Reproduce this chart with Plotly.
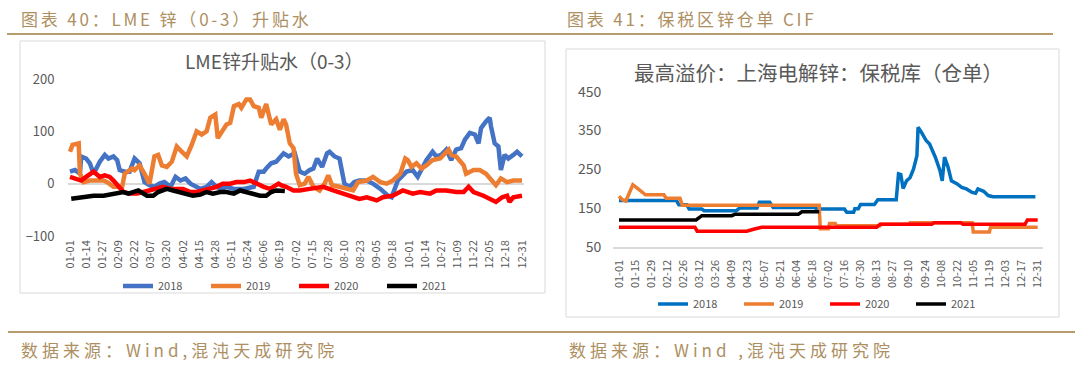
import plotly.graph_objects as go

W, H = 1080, 365
OX, OY = 0, 0

# ---------------- tick labels ----------------
left_ticks = ["01-01", "01-14", "01-27", "02-09", "02-22", "03-07", "03-20", "04-02", "04-15",
              "04-28", "05-11", "05-24", "06-06", "06-19", "07-02", "07-15", "07-28", "08-10",
              "08-23", "09-05", "09-18", "10-01", "10-14", "10-27", "11-09", "11-22", "12-05",
              "12-18", "12-31"]
right_ticks = ["01-01", "01-15", "01-29", "02-12", "02-26", "03-12", "03-26", "04-09", "04-23",
               "05-07", "05-21", "06-04", "06-18", "07-02", "07-16", "07-30", "08-13", "08-27",
               "09-10", "09-24", "10-08", "10-22", "11-05", "11-19", "12-03", "12-17", "12-31"]
left_tick_days = [0, 13, 26, 39, 52, 65, 78, 91, 104, 117, 130, 143, 156, 169, 182, 195, 208, 221,
                  234, 247, 260, 273, 286, 299, 312, 325, 338, 351, 364]
right_tick_days = [0, 14, 28, 42, 56, 70, 84, 98, 112, 126, 140, 154, 168, 182, 196, 210, 224, 238,
                   252, 266, 280, 294, 308, 322, 336, 350, 364]

# ---------------- left chart: LME zinc (0-3) spread; x = day of year (0 = 01-01) ----------------
L2018_day = [0, 4, 8, 9, 13, 16, 19, 21, 24, 28, 31, 35, 38, 40, 44, 48, 52, 56, 60, 64,
             68, 72, 76, 81, 85, 89, 93, 97, 101, 105, 110, 114, 118, 122, 126, 132, 140, 148, 152, 156,
             158, 162, 166, 172, 176, 181, 185, 189, 193, 196, 199, 203, 207, 209, 213, 217, 221, 225, 229, 233,
             239, 244, 250, 256, 259, 262, 264, 271, 276, 280, 287, 292, 295, 299, 303, 307, 311, 315, 318, 322,
             326, 329, 331, 335, 338, 339, 342, 345, 347, 350, 353, 357, 360, 364]
L2018_val = [23, 26, 19, 52, 48, 39, 19, 29, 42, 55, 48, 52, 45, 26, 23, 23, 48, 39, 3, -3,
             -6, 0, 3, -6, 13, 6, 10, 0, -6, -10, -6, 3, -6, -10, -6, -10, -10, -6, 23, 23,
             29, 39, 42, 58, 52, 58, 23, 19, 26, 29, 48, 32, 58, 61, 52, 48, 0, -6, 3, 6,
             6, 0, -10, -23, -26, -6, 6, 23, 26, 13, 45, 61, 52, 55, 65, 45, 65, 68, 84, 97,
             94, 77, 106, 119, 126, 110, 77, 71, 26, 55, 48, 55, 61, 52]

L2019_day = [0, 2, 7, 8, 11, 16, 27, 30, 35, 42, 44, 50, 52, 56, 60, 64, 68, 71, 74, 78,
             82, 86, 90, 94, 98, 102, 106, 110, 113, 117, 119, 123, 126, 129, 132, 136, 138, 142, 145, 148,
             152, 154, 158, 162, 166, 169, 172, 174, 177, 180, 182, 185, 189, 192, 196, 201, 205, 208, 211, 217,
             223, 228, 232, 239, 244, 250, 255, 260, 266, 270, 272, 275, 279, 283, 287, 292, 298, 302, 305, 307,
             311, 317, 319, 325, 330, 335, 341, 343, 347, 352, 357, 364]
L2019_val = [61, 74, 77, 19, 3, 6, 6, 3, -6, -6, 19, 29, 26, 35, 19, 0, 52, 55, 35, 32,
             42, 71, 61, 52, 74, 100, 94, 100, 126, 132, 87, 100, 113, 116, 148, 152, 145, 161, 161, 148,
             145, 126, 152, 113, 123, 103, 123, 113, 77, 68, 19, -3, 0, 13, -6, -13, 0, 16, -3, -6,
             -10, -13, 3, 6, 13, 3, 0, 6, 19, 48, 45, 32, 39, 29, 35, 45, 48, 58, 65, 55,
             52, 35, 19, 26, 26, 19, 0, -3, 10, 3, 6, 6]

L2020_day = [0, 5, 9, 13, 19, 21, 24, 28, 32, 35, 39, 43, 48, 54, 59, 64, 70, 75, 81, 86,
             91, 97, 102, 107, 113, 118, 123, 129, 134, 140, 145, 150, 156, 161, 168, 170, 174, 180, 185, 193,
             204, 212, 220, 228, 233, 239, 247, 252, 260, 268, 276, 282, 290, 295, 303, 311, 317, 321, 325, 333,
             338, 343, 348, 352, 354, 357, 364]
L2020_val = [13, 10, 6, 13, 23, 19, 13, 16, 13, 6, -6, -16, -19, -19, -16, -13, -10, -6, -10, -10,
             -10, -16, -16, -13, -10, -6, 0, 0, 3, 3, 6, 0, -6, -10, 0, -3, -6, -13, -13, -10,
             -6, -13, -19, -23, -29, -26, -32, -26, -23, -13, -19, -16, -19, -13, -13, -16, -16, -6, -16, -23,
             -29, -35, -26, -23, -35, -26, -23]

L2021_day = [1, 11, 19, 27, 35, 43, 47, 51, 55, 62, 67, 71, 78, 83, 89, 94, 99, 105, 110, 115,
             121, 126, 132, 137, 142, 148, 153, 158, 162, 166, 173]
L2021_val = [-29, -25, -23, -23, -19, -16, -19, -16, -13, -23, -23, -16, -10, -13, -16, -19, -23, -21, -16, -19,
             -16, -16, -19, -13, -16, -19, -23, -23, -16, -13, -14]

# ---------------- right chart: bonded zinc warrant premium; x = day of year ----------------
R2018_day = [0, 50, 52, 59, 61, 72, 74, 102, 105, 120, 122, 131, 134, 170, 172, 196, 198, 204, 205, 208,
             210, 222, 225, 241, 243, 245, 247, 250, 253, 256, 259, 260, 263, 267, 270, 275, 279, 281, 283, 286,
             289, 294, 298, 302, 307, 310, 312, 317, 321, 325, 362]
R2018_val = [169, 169, 158, 158, 147, 147, 143, 143, 150, 150, 165, 165, 151, 151, 147, 147, 139, 139, 148, 148,
             159, 159, 171, 171, 238, 236, 200, 220, 228, 250, 285, 358, 345, 324, 315, 281, 247, 220, 281, 256,
             220, 212, 203, 199, 190, 188, 199, 193, 182, 179, 179]

R2019_day = [0, 3, 6, 10, 12, 15, 18, 20, 23, 39, 41, 53, 55, 174, 175, 182, 183, 188, 189, 227,
             228, 252, 253, 307, 308, 322, 323, 364]
R2019_val = [180, 171, 168, 195, 210, 203, 195, 192, 184, 184, 175, 175, 157, 157, 96, 96, 110, 110, 104, 104,
             108, 108, 112, 112, 88, 88, 100, 100]

R2020_day = [0, 66, 68, 111, 117, 124, 224, 227, 272, 274, 297, 299, 353, 355, 364]
R2020_val = [100, 100, 90, 90, 95, 100, 100, 108, 108, 112, 112, 108, 108, 119, 119]

R2021_day = [0, 67, 72, 98, 101, 156, 159, 174]
R2021_val = [119, 119, 130, 130, 134, 134, 140, 140]

series_names = ["2018", "2019", "2020", "2021"]
left_colors = ["#4472C4", "#ED7D31", "#FF0000", "#000000"]
right_colors = ["#0070C0", "#ED7D31", "#FF0000", "#000000"]
left_data = [(L2018_day, L2018_val), (L2019_day, L2019_val), (L2020_day, L2020_val), (L2021_day, L2021_val)]
right_data = [(R2018_day, R2018_val), (R2019_day, R2019_val), (R2020_day, R2020_val), (R2021_day, R2021_val)]

GRAY = "#595959"
GOLD = "#AD8F62"
LINEGOLD = "#B89C6E"
CJK = "Noto Sans CJK SC"


def px(x):
    return (x - OX) / W


def py(y):
    return 1 - (y - OY) / H


def spaced(txt, sp):
    return '<span style="letter-spacing:%spx">%s</span>' % (sp, txt)


fig = go.Figure()
for name, col, (d, v) in zip(series_names, left_colors, left_data):
    fig.add_trace(go.Scatter(x=d, y=v, mode="lines", name=name, xaxis="x", yaxis="y", legend="legend",
                             line=dict(color=col, width=4.5)))
for name, col, (d, v) in zip(series_names, right_colors, right_data):
    fig.add_trace(go.Scatter(x=d, y=v, mode="lines", name=name, xaxis="x2", yaxis="y2", legend="legend2",
                             line=dict(color=col, width=3.5)))

lppd = 452 / 364.0
rppd = 418.7 / 364.0

fig.update_layout(
    width=W, height=H,
    margin=dict(l=0, r=0, t=0, b=0, pad=0, autoexpand=False),
    paper_bgcolor="white", plot_bgcolor="rgba(0,0,0,0)",
    font=dict(family=CJK, color=GRAY),
    xaxis=dict(domain=[px(70 - 2 * lppd), px(522 + 2 * lppd)], range=[-2, 366], anchor="y",
               tickmode="array", tickvals=left_tick_days, ticktext=left_ticks, tickangle=-90,
               tickfont=dict(size=11, color=GRAY), showgrid=False, zeroline=False, showline=False,
               ticks="", ticklabelstandoff=1, automargin=False),
    yaxis=dict(domain=[py(236), py(79)], range=[-100, 200], anchor="x",
               tickmode="array", tickvals=[-100, 0, 100, 200],
               tickfont=dict(size=13, color=GRAY), showgrid=False, zeroline=True,
               zerolinecolor="#D9D9D9", zerolinewidth=2, showline=False, ticks="", ticklabelstandoff=12,
               automargin=False),
    xaxis2=dict(domain=[px(619 - 5 * rppd), px(1037.7 + 5 * rppd)], range=[-5, 369], anchor="y2",
                tickmode="array", tickvals=right_tick_days, ticktext=right_ticks, tickangle=-90,
                tickfont=dict(size=11, color=GRAY), showgrid=False, zeroline=False, showline=True,
                linecolor="#D9D9D9", linewidth=1.5, ticks="", ticklabelstandoff=7, automargin=False),
    yaxis2=dict(domain=[py(246.7), py(91.7)], range=[50, 450], anchor="x2",
                tickmode="array", tickvals=[50, 150, 250, 350, 450],
                tickfont=dict(size=14, color=GRAY), showgrid=False, zeroline=False, showline=False,
                ticks="", ticklabelstandoff=11, automargin=False),
    legend=dict(orientation="h", x=px(118), y=py(286), xanchor="left", yanchor="middle",
                font=dict(size=11, color=GRAY), bgcolor="rgba(0,0,0,0)", entrywidth=43,
                entrywidthmode="pixels"),
    legend2=dict(orientation="h", x=px(653), y=py(304), xanchor="left", yanchor="middle",
                 font=dict(size=11, color=GRAY), bgcolor="rgba(0,0,0,0)", entrywidth=41,
                 entrywidthmode="pixels"),
    shapes=[
        dict(type="rect", xref="paper", yref="paper", x0=px(20), x1=px(545), y0=py(293), y1=py(41),
             line=dict(color="#D9D9D9", width=1), layer="below"),
        dict(type="rect", xref="paper", yref="paper", x0=px(566), x1=px(1059), y0=py(317), y1=py(49),
             line=dict(color="#D9D9D9", width=1), layer="below"),
        dict(type="line", xref="paper", yref="paper", x0=px(7), x1=px(1053), y0=py(34), y1=py(34),
             line=dict(color=LINEGOLD, width=2)),
        dict(type="line", xref="paper", yref="paper", x0=px(8), x1=px(1075), y0=py(332), y1=py(332),
             line=dict(color=LINEGOLD, width=2)),
    ],
    annotations=[
        dict(text=spaced("图表 40：LME 锌（0-3）升贴水", 2.8), x=px(19), y=py(18), xref="paper", yref="paper",
             xanchor="left", yanchor="middle", showarrow=False, font=dict(family=CJK, size=17, color=GOLD)),
        dict(text=spaced("图表 41：保税区锌仓单 CIF", 2.8), x=px(565), y=py(18), xref="paper", yref="paper",
             xanchor="left", yanchor="middle", showarrow=False, font=dict(family=CJK, size=17, color=GOLD)),
        dict(text=spaced("数据来源：Wind,混沌天成研究院", 4), x=px(19), y=py(349), xref="paper", yref="paper",
             xanchor="left", yanchor="middle", showarrow=False, font=dict(family=CJK, size=17, color=GOLD)),
        dict(text=spaced("数据来源：Wind ,混沌天成研究院", 4), x=px(567), y=py(349), xref="paper", yref="paper",
             xanchor="left", yanchor="middle", showarrow=False, font=dict(family=CJK, size=17, color=GOLD)),
        dict(text="LME锌升贴水（0-3）", x=px(274), y=py(61), xref="paper", yref="paper",
             xanchor="center", yanchor="middle", showarrow=False, font=dict(family=CJK, size=19, color=GRAY)),
        dict(text="最高溢价：上海电解锌：保税库（仓单）", x=px(818), y=py(72), xref="paper", yref="paper",
             xanchor="center", yanchor="middle", showarrow=False, font=dict(family=CJK, size=20.5, color=GRAY)),
    ],
)

# remove the browser's default 8 px page margin so the figure sits at the window's top-left corner
fig.write_html("out.html", config={"displayModeBar": False},
               post_script="document.body.style.margin='0px';")
